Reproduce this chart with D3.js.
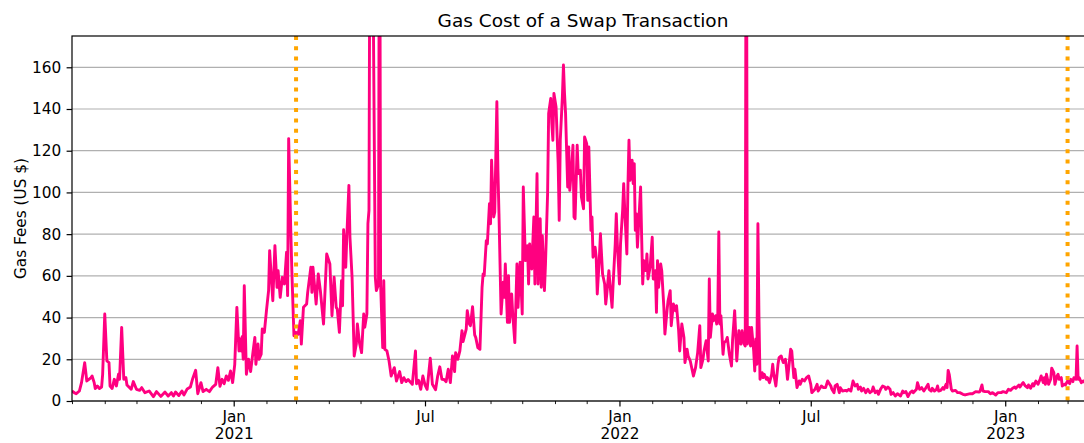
<!DOCTYPE html>
<html>
<head>
<meta charset="utf-8">
<script src="https://cdn.jsdelivr.net/npm/d3@7"></script>
<style>
  body { margin: 0; background: #ffffff; }
  text { font-family: "DejaVu Sans", sans-serif; }
</style>
</head>
<body>
<div id="gas_grafico"></div>
<script>
const daysAugMar = [
  0, 2, 4, 7, 9, 12, 14, 16, 18, 19,
  21, 22, 24, 26, 28, 29, 31, 33, 35, 36,
  38, 40, 42, 44, 45, 47, 49, 51, 52, 56,
  58, 61, 64, 66, 69, 73, 77, 80, 84, 88,
  91, 94, 96, 98, 101, 104, 106, 109, 112, 114,
  117, 119, 122, 124, 127, 130, 133, 136, 138, 140,
  142, 144, 146, 148, 150, 152, 154, 156, 158, 159,
  160, 161, 162, 163, 165, 167, 169, 171, 173, 174,
  176, 177, 179, 180, 182, 184, 186, 187, 190, 192,
  194, 195, 197, 199, 201, 203, 204, 205, 207, 208,
  210, 212, 214, 216, 217, 219, 222, 223, 226, 227,
  228, 231, 233, 235, 238
];
const feesAugMar = [
  4.8, 4, 3.5, 4.8, 8.8, 18.4, 9.6, 10.4, 11.2, 12,
  8.8, 6, 7.2, 6, 6.7, 12.8, 41.7, 19.2, 18.4, 7.2,
  6, 10.4, 7.2, 12.8, 10.4, 35.3, 10.4, 11.2, 7.7, 5.6,
  9.3, 5.6, 5.1, 6.4, 4, 4.8, 2.1, 4.5, 2.2, 4.3,
  2.4, 4, 2.4, 4.3, 2.6, 4.8, 2.9, 5.8, 6.7, 10.4,
  14.7, 3.5, 8.8, 4.5, 5.6, 4.5, 6.7, 8, 16, 7,
  10.4, 8.3, 12, 9.9, 14.4, 8.8, 17.6, 44.9, 24, 29.7,
  24, 30.8, 20, 55.3, 12.8, 20, 14.1, 22.4, 30.5, 17.6,
  27.3, 20, 22.4, 34.5, 32.9, 43.3, 52.9, 72.1, 48.1, 74.5,
  54.5, 62.5, 49.7, 59.3, 56.1, 71.3, 50.5, 125.8, 81.8, 62.5,
  31.3, 32.9, 32, 38.5, 27.3, 44.9, 46.5, 52.1, 64.1, 52.1,
  64.1, 46.5, 60.9, 52.9, 36.9
];

const daysAprNov = [
  241, 244, 246, 248, 250, 251, 253, 255, 256, 257,
  259, 260, 262, 263, 265, 267, 269, 270, 272, 274,
  276, 277, 279, 280, 281, 282, 284, 287, 288, 290,
  291, 292, 294, 295, 296, 298, 300, 302, 305, 307,
  310, 312, 314, 316, 318, 322, 325, 326, 328, 330,
  332, 334, 336, 339, 341, 344, 346, 348, 350, 352,
  354, 356, 358, 360, 362, 363, 365, 367, 369, 370,
  373, 374, 376, 377, 379, 381, 382, 384, 386, 388,
  389, 390, 392, 393, 395, 396, 397, 399, 400, 402,
  403, 404, 406, 408, 409, 410, 412, 413, 414, 416,
  417, 419, 421, 422, 424, 426, 427, 429, 431, 432,
  433, 435, 437, 438, 440, 441, 443, 444, 445, 447,
  448, 450, 451, 453, 454, 455, 456, 458, 460, 461,
  462, 464, 465, 466, 467, 469, 470, 471, 473, 474,
  475
];
const feesAprNov = [
  70.5, 65.7, 40.9, 59.3, 44.9, 44.1, 32.9, 57.7, 45.7, 82.1,
  64.1, 78.5, 103.4, 78.5, 59.3, 21.6, 27.3, 36.9, 28, 23.2,
  41.7, 35.3, 41.7, 85, 91.4, 260, 260, 59.3, 52.9, 56,
  300, 56.1, 25.6, 57.7, 24.8, 24, 19.2, 12, 16, 9.6,
  14.1, 8.8, 11.2, 9.3, 10.3, 8, 24, 8.3, 9.9, 5.6,
  12, 7.7, 5.6, 20.5, 8, 5.4, 12, 16.4, 10.4, 10.3,
  9.3, 15.2, 8.8, 21.6, 14.1, 23.2, 20, 24, 33.7, 28.5,
  34.5, 43.3, 36.9, 36.1, 45.2, 31.7, 30.5, 25.6, 24.8, 54.5,
  60.9, 60.1, 76.9, 75.3, 94.6, 85, 115.4, 88.2, 90.6, 143.5,
  110.6, 89.8, 41.7, 56.9, 49.7, 65.7, 37.7, 60.1, 37.7, 51.3,
  41.7, 28, 65.7, 44.9, 66.5, 41.7, 102.6, 67.3, 74.5, 56.1,
  75.3, 63.3, 88.2, 56.1, 109, 56.1, 87.4, 54.5, 79.3, 52.9,
  65.7, 99.4, 137.9, 145.1, 133, 125, 147.5, 141, 113.8, 86.6,
  125, 145.9, 161.1, 147.5, 137.9, 102.6, 121.8, 101, 113.8, 122.6,
  88.2
];

const daysNovJul = [
  476, 478, 479, 481, 482, 484, 485, 487, 488, 489,
  491, 492, 493, 495, 496, 497, 499, 500, 502, 504,
  505, 506, 508, 509, 511, 512, 514, 515, 516, 518,
  519, 521, 522, 523, 525, 526, 527, 528, 530, 531,
  532, 533, 534, 535, 537, 538, 539, 540, 541, 543,
  544, 545, 547, 549, 550, 552, 553, 554, 555, 557,
  558, 560, 561, 563, 564, 566, 567, 569, 571, 572,
  574, 575, 577, 579, 580, 582, 583, 585, 588, 590,
  592, 594, 595, 597, 598, 600, 602, 603, 604, 606,
  607, 609, 610, 611, 612, 613, 614, 616, 617, 619,
  620, 622, 624, 625, 627, 628, 629, 631, 632, 633,
  634, 636, 637, 638, 639, 641, 642, 643, 645, 646,
  647, 648, 649, 650, 651, 653, 654, 655, 657, 658,
  660, 662, 663, 664, 666, 668, 669, 671, 673, 675,
  676, 677, 680, 681, 683, 684, 686, 688, 689, 691,
  693, 695, 697, 699, 700, 703, 705, 706, 709, 711,
  713, 715, 718
];
const feesNovJul = [
  87.4, 122.6, 109, 110.6, 97.8, 92.2, 126.6, 123.4, 96.2, 121.8,
  81.8, 88.2, 68.9, 73.7, 68.9, 51.3, 68.9, 80.2, 60.9, 56.1,
  46.5, 51.3, 62.5, 56.1, 44.9, 56.1, 75.3, 89.8, 75.3, 56.1,
  75.3, 91.4, 104.2, 91.4, 70.5, 102.6, 125, 105.8, 115.4, 104.2,
  113.8, 81.8, 89.8, 73.7, 93, 102.6, 78.5, 56.1, 67.3, 62.5,
  70.5, 58.5, 64.1, 78.5, 58.5, 62.5, 42.5, 67.3, 54.5, 65.7,
  62.5, 44.9, 32.1, 43.3, 48.1, 52.9, 36.1, 46.5, 43.3, 45.7,
  33.7, 24, 36.9, 30.5, 18.4, 24.8, 21.6, 19.2, 12, 16,
  23.2, 36.1, 16, 20, 24, 28.9, 19.2, 58.5, 30.5, 41.7,
  38.5, 40.9, 36.9, 40.1, 81, 36.9, 40.9, 22.4, 28, 28.9,
  30.5, 22.4, 16.8, 28.9, 43.3, 32.1, 19.2, 33.7, 28, 27.3,
  33.7, 27.3, 26.4, 300, 27.3, 35.3, 26.4, 35.3, 24, 14.4,
  29.7, 17.6, 85, 40.1, 10.4, 13.6, 11.2, 12.8, 10.4, 11.2,
  8.8, 12.8, 17.6, 12.8, 7.2, 17.6, 20.8, 21.6, 18.4, 20,
  16, 10.4, 24.8, 24, 11.2, 15.2, 6.4, 9.6, 8, 10.4,
  9.6, 11.2, 12, 8, 4, 5.6, 8, 4.8, 7.2, 6.4,
  6.4, 9.6, 7.2
];

const daysJulMar = [
  719, 721, 722, 724, 726, 727, 729, 732, 733, 735,
  737, 739, 741, 743, 744, 746, 747, 749, 751, 753,
  755, 757, 758, 760, 762, 763, 765, 767, 769, 770,
  772, 774, 775, 777, 779, 781, 784, 786, 787, 789,
  791, 793, 795, 796, 799, 800, 802, 804, 806, 808,
  810, 811, 813, 814, 816, 818, 819, 820, 822, 824,
  825, 827, 828, 829, 830, 832, 833, 836, 838, 840,
  843, 845, 847, 850, 852, 855, 858, 859, 861, 862,
  864, 867, 869, 871, 874, 876, 879, 881, 884, 886,
  888, 890, 892, 893, 896, 897, 899, 900, 902, 904,
  905, 907, 909, 910, 912, 914, 916, 917, 919, 920,
  921, 922, 924, 926, 927, 929, 930, 932, 933, 934,
  936, 937, 939, 940, 942, 944, 945, 947, 948, 950,
  951, 952, 953, 955, 957, 958
];
const feesJulMar = [
  5.6, 4, 7.2, 8, 4, 6.4, 4.8, 5.1, 4.8, 5.6,
  4.8, 9.6, 7.2, 8, 5.6, 6.7, 4.8, 6.1, 4, 5.6,
  4, 4.8, 6.7, 4, 4.8, 3.2, 5.6, 7.2, 6.7, 5.6,
  6.7, 5.6, 3.2, 4, 2.4, 3.5, 2.4, 4.8, 4, 4.5,
  2.1, 4, 4.8, 4, 5.6, 8.8, 5.6, 6.4, 4.8, 6.4,
  8, 5.6, 4.8, 6.1, 4.8, 5.6, 7.2, 4.8, 5.1, 6.4,
  5.6, 8, 6.4, 14.7, 12.8, 5.6, 4.8, 5.1, 4, 4,
  3.2, 2.9, 3.2, 3.5, 3.5, 4.5, 4.3, 4.5, 7.7, 4.8,
  4.5, 4.5, 3.5, 4, 2.9, 4, 4, 4.5, 4, 5.6,
  5.1, 6.1, 6.7, 6.1, 7.7, 6.7, 8.3, 8.8, 7.2, 6.4,
  7.7, 6.1, 8.3, 7.2, 9.6, 8, 10.4, 12, 8.8, 11.2,
  8, 12.8, 8, 10.4, 15.7, 13.6, 8, 12, 12.8, 10.4,
  11.2, 7.2, 8, 7.7, 9.6, 8.3, 10.4, 9.3, 11.2, 10.4,
  26.4, 10.4, 11.2, 8.8, 9.6, 8.8
];

// Fechas marcadas con linea vertical naranja
const markerDates = [Date.UTC(2021, 2, 1), Date.UTC(2023, 2, 1)];
// Ticks del eje y
const yTicks = [0, 20, 40, 60, 80, 100, 120, 140, 160];

const startDate = Date.UTC(2020, 7, 1);
const endDate = Date.UTC(2023, 2, 26);

// Junto los tramos en una sola serie (fecha, valor)
const allDays = daysAugMar.concat(daysAprNov, daysNovJul, daysJulMar);
const allFees = feesAugMar.concat(feesAprNov, feesNovJul, feesJulMar);
const data = allDays.map(function (d, i) {
  return { date: new Date(startDate + d * 864e5), fee: allFees[i] };
});

// Margenes (el eje sigue un poco mas alla del borde derecho de la imagen)
const margin = { top: 36, right: -10, bottom: 42, left: 72 };
const width = 1084 - margin.left - margin.right;
const height = 443 - margin.top - margin.bottom;
const tickLen = 5.4;
const fontTick = "15.3px";

const root = d3
  .select("#gas_grafico")
  .append("svg")
  .attr("width", 1084)
  .attr("height", 443)
  .style("display", "block");

const svg = root
  .append("g")
  .attr("transform", "translate(" + margin.left + "," + margin.top + ")");

// Escalas
const x = d3.scaleUtc().domain([startDate, endDate]).range([0, width]);
const y = d3.scaleLinear().domain([0, 175]).range([height, 0]);

// Rejilla horizontal
svg
  .append("g")
  .attr("class", "grid")
  .selectAll("line")
  .data(yTicks)
  .join("line")
  .attr("x1", 0)
  .attr("x2", width)
  .attr("y1", function (d) { return y(d); })
  .attr("y2", function (d) { return y(d); })
  .attr("stroke", "#b0b0b0")
  .attr("stroke-width", 1.2);

// Recorte para que los picos no se salgan por arriba
svg
  .append("clipPath")
  .attr("id", "recorte")
  .append("rect")
  .attr("width", width)
  .attr("height", height);

const line = d3
  .line()
  .x(function (d) { return x(d.date); })
  .y(function (d) { return y(d.fee); });

svg
  .append("path")
  .datum(data)
  .attr("clip-path", "url(#recorte)")
  .attr("fill", "none")
  .attr("stroke", "#ff0080")
  .attr("stroke-width", 2.9)
  .attr("stroke-linejoin", "round")
  .attr("d", line);

// Lineas verticales punteadas
svg
  .append("g")
  .selectAll("line")
  .data(markerDates)
  .join("line")
  .attr("x1", function (d) { return x(d); })
  .attr("x2", function (d) { return x(d); })
  .attr("y1", 0)
  .attr("y2", height)
  .attr("stroke", "orange")
  .attr("stroke-width", 4)
  .attr("stroke-dasharray", "4 6.3");

// Eje y
const yAxis = svg
  .append("g")
  .call(d3.axisLeft(y).tickValues(yTicks).tickSize(tickLen).tickPadding(tickLen));
yAxis.select(".domain").remove();
yAxis.selectAll("line").attr("stroke", "black").attr("stroke-width", 1.2);
yAxis
  .selectAll("text")
  .attr("font-size", fontTick)
  .attr("font-family", "DejaVu Sans")
  .attr("fill", "black");

// Eje x: ticks mayores (ene/jul) y menores (cada mes)
const months = d3.utcMonth.range(startDate, endDate);
const majorMonths = months.filter(function (d) {
  return d.getUTCMonth() === 0 || d.getUTCMonth() === 6;
});
const minorMonths = months.filter(function (d) {
  return d.getUTCMonth() !== 0 && d.getUTCMonth() !== 6;
});

const xMinor = svg
  .append("g")
  .attr("transform", "translate(0," + height + ")")
  .call(d3.axisBottom(x).tickValues(minorMonths).tickSize(3.1).tickFormat(""));
xMinor.select(".domain").remove();
xMinor.selectAll("line").attr("stroke", "black").attr("stroke-width", 0.9);

const xMajor = svg
  .append("g")
  .attr("transform", "translate(0," + height + ")")
  .call(d3.axisBottom(x).tickValues(majorMonths).tickSize(tickLen).tickPadding(4.3).tickFormat(""));
xMajor.select(".domain").remove();
xMajor.selectAll("line").attr("stroke", "black").attr("stroke-width", 1.2);
xMajor
  .selectAll(".tick text")
  .attr("font-size", fontTick)
  .attr("font-family", "DejaVu Sans")
  .attr("fill", "black")
  .each(function (d) {
    const t = d3.select(this);
    t.append("tspan").attr("x", 0).text(d3.utcFormat("%b")(d));
    if (d.getUTCMonth() === 0) {
      t.append("tspan").attr("x", 0).attr("dy", "1.13em").text(d.getUTCFullYear());
    }
  });

// Bordes del area del grafico
svg
  .append("rect")
  .attr("width", width)
  .attr("height", height)
  .attr("fill", "none")
  .attr("stroke", "black")
  .attr("stroke-width", 1.2);

// Titulo y etiqueta del eje y
svg
  .append("text")
  .attr("x", width / 2)
  .attr("y", -9)
  .attr("text-anchor", "middle")
  .attr("font-size", "18.5px")
  .attr("fill", "black")
  .text("Gas Cost of a Swap Transaction");

svg
  .append("text")
  .attr("transform", "translate(" + (26 - margin.left) + "," + height / 2 + ") rotate(-90)")
  .attr("text-anchor", "middle")
  .attr("font-size", fontTick)
  .attr("fill", "black")
  .text("Gas Fees (US $)");
</script>
</body>
</html>
